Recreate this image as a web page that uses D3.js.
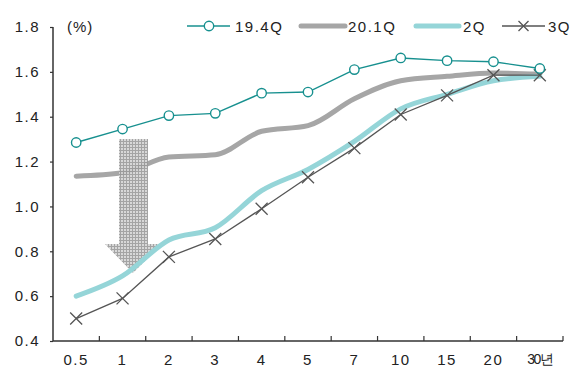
<!DOCTYPE html>
<html><head><meta charset="utf-8">
<script src="https://cdn.jsdelivr.net/npm/d3@7"></script>
<style>body{margin:0;background:#fff}svg text{font-family:"Liberation Sans",Arial,sans-serif}</style>
</head><body><svg id="c" width="582" height="378"></svg>
<script>
const categories = ["0.5","1","2","3","4","5","7","10","15","20","30년"];
const s194 = [1.285,1.345,1.405,1.415,1.505,1.51,1.61,1.662,1.65,1.645,1.615];
const s201 = [1.135,1.15,1.22,1.23,1.335,1.36,1.48,1.56,1.58,1.595,1.59];
const s2q  = [0.60,0.69,0.85,0.905,1.07,1.165,1.29,1.435,1.50,1.56,1.58];
const s3q  = [0.50,0.59,0.775,0.855,0.99,1.13,1.26,1.41,1.495,1.585,1.585];
const yTicks = [0.4,0.6,0.8,1.0,1.2,1.4,1.6,1.8];
const seriesNames = ["19.4Q","20.1Q","2Q","3Q"];

const svg = d3.select("#c");
const x = d3.scaleBand().domain(categories).range([53,563]);
const y = d3.scaleLinear().domain([0.4,1.8]).range([341,27]);
const cx = d => x(d) + x.bandwidth()/2;

// y axis
const ya = svg.append("g").attr("transform","translate(53,0)")
  .call(d3.axisLeft(y).tickValues(yTicks).tickFormat(d3.format(".1f")).tickSize(3).tickPadding(10));
ya.select(".domain").attr("stroke","#333").attr("stroke-width",1.5).attr("d","M0,27V341");
ya.selectAll(".tick line").attr("stroke","#333").attr("stroke-width",1.2);
ya.selectAll("text").attr("font-size",15).attr("fill","#222").attr("letter-spacing","1.5px");

// x axis
const xa = svg.append("g").attr("transform","translate(0,341)")
  .call(d3.axisBottom(x).tickSize(0).tickPadding(13));
xa.select(".domain").attr("stroke","#333").attr("stroke-width",1.5).attr("d","M53,0H563");
xa.selectAll("text").attr("font-size",15).attr("fill","#222").attr("letter-spacing","1.5px");
xa.selectAll("text").filter(d=>d==="30년").attr("letter-spacing","-1.5px").attr("font-size",14);
const bounds = categories.map(c=>x(c)+x.bandwidth());
svg.append("g").selectAll("line").data(bounds).join("line")
  .attr("x1",d=>d).attr("x2",d=>d).attr("y1",341).attr("y2",336)
  .attr("stroke","#333").attr("stroke-width",1.2);

svg.append("text").attr("x",67).attr("y",32).attr("font-size",15).attr("fill","#222").attr("letter-spacing","1px").text("(%)");

const straight = d3.line().x((d,i)=>cx(categories[i])).y(d=>y(d));
const smooth = d3.line().x((d,i)=>cx(categories[i])).y(d=>y(d)).curve(d3.curveMonotoneX);

// pattern
const defs = svg.append("defs");
const pat = defs.append("pattern").attr("id","hatch").attr("patternUnits","userSpaceOnUse").attr("width",3).attr("height",3);
pat.append("rect").attr("width",3).attr("height",3).attr("fill","#d4d4d4");
pat.append("path").attr("d","M0,0.5H3M0.5,0V3").attr("stroke","#9a9a9a").attr("stroke-width",1);

// 20.1Q
svg.append("path").datum(s201).attr("d",smooth).attr("fill","none").attr("stroke","#a6a6a6").attr("stroke-width",5).attr("stroke-linecap","round");

// arrow
const arrowPts = [[119,139],[148,139],[148,244],[162,244],[133,273],[105,244],[119,244]];
svg.append("path").attr("d","M"+arrowPts.join("L")+"Z").attr("fill","url(#hatch)").attr("opacity",0.9);

// 2Q
svg.append("path").datum(s2q).attr("d",smooth).attr("fill","none").attr("stroke","#95d5d8").attr("stroke-width",5).attr("stroke-linecap","round");

// 3Q
svg.append("path").datum(s3q).attr("d",straight).attr("fill","none").attr("stroke","#555").attr("stroke-width",1.3);
const xm = (g,px,py,s)=>g.append("path").attr("d",`M${px-s},${py-s}L${px+s},${py+s}M${px-s},${py+s}L${px+s},${py-s}`).attr("stroke","#555").attr("stroke-width",1.3);
const g3 = svg.append("g");
s3q.forEach((v,i)=>xm(g3,cx(categories[i]),y(v),6));

// 19.4Q
svg.append("path").datum(s194).attr("d",straight).attr("fill","none").attr("stroke","#17908f").attr("stroke-width",1.4);
svg.append("g").selectAll("circle").data(s194).join("circle")
  .attr("cx",(d,i)=>cx(categories[i])).attr("cy",d=>y(d)).attr("r",4.7)
  .attr("fill","#fff").attr("stroke","#17908f").attr("stroke-width",1.4);

// legend
const ly = 26;
const lg = svg.append("g");
lg.append("line").attr("x1",187).attr("x2",230).attr("y1",ly).attr("y2",ly).attr("stroke","#17908f").attr("stroke-width",1.4);
lg.append("circle").attr("cx",209).attr("cy",ly).attr("r",4.7).attr("fill","#fff").attr("stroke","#17908f").attr("stroke-width",1.4);
lg.append("line").attr("x1",301).attr("x2",345).attr("y1",ly).attr("y2",ly).attr("stroke","#a6a6a6").attr("stroke-width",5).attr("stroke-linecap","round");
lg.append("line").attr("x1",416).attr("x2",459).attr("y1",ly).attr("y2",ly).attr("stroke","#95d5d8").attr("stroke-width",5).attr("stroke-linecap","round");
lg.append("line").attr("x1",502).attr("x2",545).attr("y1",ly).attr("y2",ly).attr("stroke","#555").attr("stroke-width",1.3);
xm(lg,523.5,ly,5);
const lx = [235,348,463,548];
lg.selectAll("text").data(seriesNames).join("text").attr("x",(d,i)=>lx[i]).attr("y",ly+5.5)
  .attr("font-size",15).attr("fill","#222").attr("letter-spacing","1.5px").text(d=>d);
</script></body></html>
